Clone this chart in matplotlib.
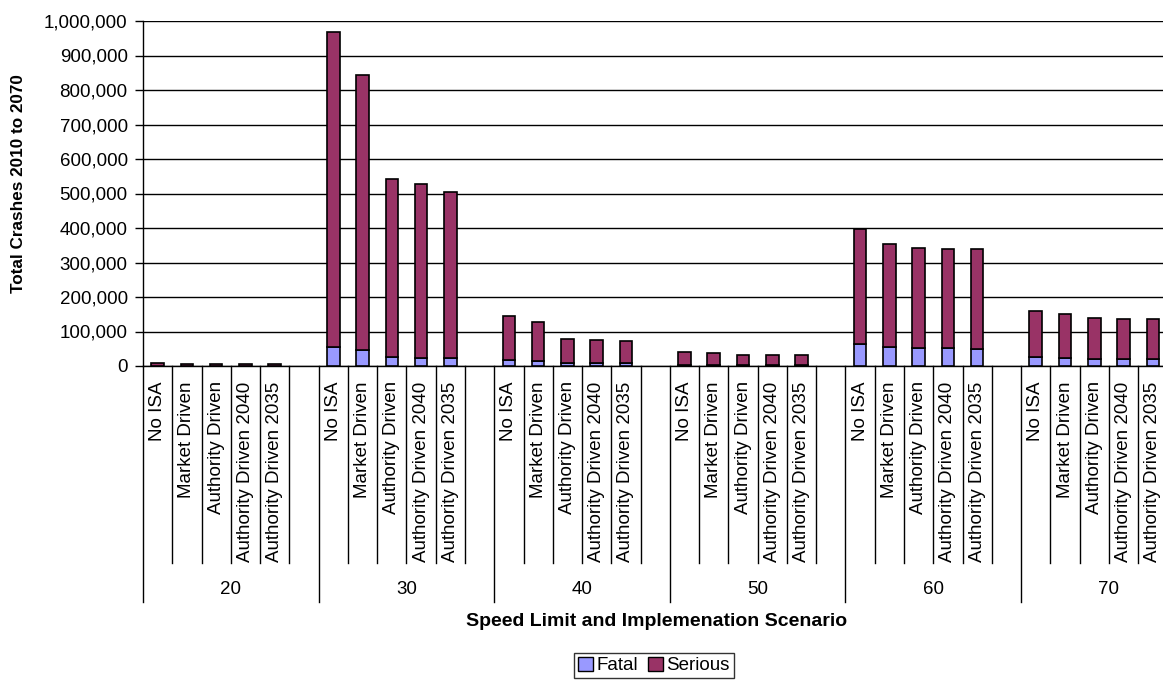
import numpy as np
import matplotlib
matplotlib.use('Agg')
import matplotlib.pyplot as plt
from matplotlib.ticker import FuncFormatter
from matplotlib.patches import Patch

plt.rcParams['font.family'] = ['Liberation Sans', 'DejaVu Sans']

# speed limits and ISA scenarios
speed_limits = ['20', '30', '40', '50', '60', '70']
scenarios = ['No ISA', 'Market Driven', 'Authority Driven',
             'Authority Driven 2040', 'Authority Driven 2035']

# crashes 2010-2070, one row per speed limit
fatal = [
    [1000, 900, 600, 600, 600],
    [56000, 47000, 26000, 24000, 23000],
    [17000, 15000, 8500, 8000, 7500],
    [4000, 3500, 2500, 2500, 2400],
    [63000, 54000, 51000, 51000, 50000],
    [25000, 22000, 21000, 20000, 20000],
]
serious = [
    [6500, 5900, 3900, 3900, 3900],
    [911000, 796000, 517000, 503000, 482000],
    [128000, 112000, 70500, 67500, 65000],
    [38000, 35500, 30500, 30000, 29600],
    [333000, 300000, 290000, 289000, 289000],
    [135500, 128000, 117000, 116000, 115000],
]

fatal_col = '#9999FF'
serious_col = '#993366'

fig = plt.figure(figsize=(11.63, 6.8), dpi=100)
ax = fig.add_axes([143/1163, 1 - 366/680, 1 - 143/1163, 345/680])

slots = len(scenarios) + 1  # one empty slot after each group
xs, f_vals, s_vals, labels = [], [], [], []
for g in range(len(speed_limits)):
    for i, sc in enumerate(scenarios):
        xs.append(g * slots + i)
        f_vals.append(fatal[g][i])
        s_vals.append(serious[g][i])
        labels.append(sc)
xs = np.array(xs)
f_vals = np.array(f_vals)
s_vals = np.array(s_vals)

w = 0.43
ax.bar(xs, f_vals, w, color=fatal_col, edgecolor='black', linewidth=1.2, zorder=3)
ax.bar(xs, s_vals, w, bottom=f_vals, color=serious_col, edgecolor='black', linewidth=1.2, zorder=3)

ax.set_ylim(0, 1000000)
ax.set_yticks(np.arange(0, 1000001, 100000))
ax.yaxis.set_major_formatter(FuncFormatter(lambda v, p: f'{int(v):,}'))
ax.yaxis.grid(True, color='black', linewidth=1)
ax.set_axisbelow(True)
ax.tick_params(axis='y', labelsize=13.5, length=6, width=1, direction='out', pad=5)

ax.set_xlim(-0.5, -0.5 + 1020 / 29.27)
ax.set_xticks(xs)
ax.set_xticklabels(labels, rotation=90, fontsize=13.5)
ax.tick_params(axis='x', length=0, pad=11)

for s in ['top', 'right']:
    ax.spines[s].set_visible(False)
ax.spines['left'].set_linewidth(1)
ax.spines['bottom'].set_linewidth(1)

# category separators below the axis
trans = ax.get_xaxis_transform()
n = len(speed_limits) * slots
for k in range(n + 1):
    xb = k - 0.5
    if k % slots == 0:
        ax.plot([xb, xb], [0, -236/345], transform=trans, color='black', lw=1, clip_on=False)
    else:
        ax.plot([xb, xb], [0, -197/345], transform=trans, color='black', lw=1, clip_on=False)

for g, sl in enumerate(speed_limits):
    ax.text(g * slots + (slots - 1) / 2, -224/345, sl, transform=trans,
            ha='center', va='center', fontsize=13.5)

ax.set_ylabel('Total Crashes 2010 to 2070', fontsize=12.3, fontweight='bold')
ax.yaxis.set_label_coords(-117/1020, (366 - 184) / 345)

fig.text(657/1163, 1 - 622/680, 'Speed Limit and Implemenation Scenario',
         ha='center', va='center', fontsize=14, fontweight='bold')

handles = [Patch(facecolor=fatal_col, edgecolor='black', label='Fatal'),
           Patch(facecolor=serious_col, edgecolor='black', label='Serious')]
fig.legend(handles=handles, loc='center', bbox_to_anchor=(654/1163, 1 - 665.5/680),
           ncol=2, fontsize=13.5, frameon=True, fancybox=False, edgecolor='black',
           handlelength=0.8, handleheight=0.8, handletextpad=0.2, columnspacing=0.5,
           borderpad=0.2, borderaxespad=0)

fig.savefig('out.png', dpi=100)
